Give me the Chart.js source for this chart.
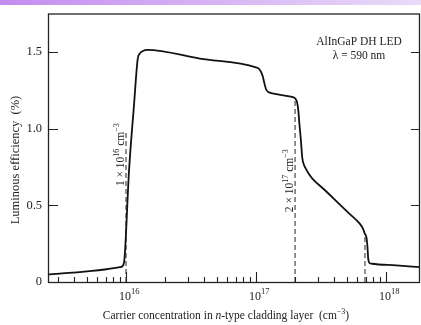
<!DOCTYPE html>
<html lang="en">
<head>
<meta charset="UTF-8">
<title>AlInGaP DH LED</title>
<style>
  body { margin: 0; background: #fff; }
  #wrap { position: relative; width: 421px; height: 325px; }
  #myChart { display: block; }
  #band { position: absolute; left: 0; top: 0; width: 421px; height: 5px;
          background: linear-gradient(to right, #c48cf0, #e9dbf8); }
</style>
</head>
<body>
<div id="wrap">
  <canvas id="myChart" width="421" height="325"></canvas>
  <div id="band"></div>
</div>

<script src="https://cdn.jsdelivr.net/npm/chart.js"></script>
<script>
// carrier concentration (cm^-3) and luminous efficiency (%)
const conc = [2.51e15, 8.99e15, 9.48e15, 9.74e15, 1.055e16, 1.152e16, 1.23e16, 1.28e16, 1.35e16, 1.45e16,
              3.7e16, 1.0e17, 1.06e17, 1.125e17, 1.16e17, 1.194e17, 1.245e17, 1.336e17, 1.81e17, 1.98e17,
              2.07e17, 2.12e17, 2.16e17, 2.22e17, 2.27e17, 2.34e17, 2.43e17, 2.58e17, 2.74e17, 3.4e17,
              4.43e17, 5.28e17, 6.31e17, 6.65e17, 6.89e17, 7.08e17, 7.2e17, 7.31e17, 7.47e17, 7.8e17,
              1.2e18, 1.83e18];
const eff = [0.048, 0.097, 0.108, 0.154, 0.725, 1.153, 1.453, 1.49, 1.506, 1.513,
             1.456, 1.399, 1.388, 1.344, 1.297, 1.258, 1.238, 1.229, 1.21, 1.2,
             1.173, 1.115, 1.03, 0.92, 0.812, 0.764, 0.736, 0.699, 0.671, 0.598,
             0.504, 0.442, 0.379, 0.349, 0.314, 0.293, 0.238, 0.152, 0.125, 0.119,
             0.108, 0.097];

// dashed marker lines: position and height
const markerX = [1e16, 2e17, 6.9e17];
const markerTop = [0.98, 1.2, 0.31];

const xMin = 2.51e15;
const xMax = 1.83e18;
const yMax = 1.75;
const xMajor = [1e16, 1e17, 1e18];
const xMajorExp = ['16', '17', '18'];
const xMinor = [3e15, 4e15, 5e15, 6e15, 7e15, 8e15, 9e15,
                2e16, 3e16, 4e16, 5e16, 6e16, 7e16, 8e16, 9e16,
                2e17, 3e17, 4e17, 5e17, 6e17, 7e17, 8e17, 9e17];
const yTicks = [0, 0.5, 1.0, 1.5];

const SERIF = '"Liberation Serif", "Times New Roman", serif';

// draws text pieces one after another: [text, size, italic, raise]
function drawRuns(ctx, runs, x, y, align) {
    let total = 0;
    runs.forEach(r => {
        ctx.font = (r[2] ? 'italic ' : '') + r[1] + 'px ' + SERIF;
        r.w = ctx.measureText(r[0]).width;
        total += r.w;
    });
    let cx = align === 'center' ? x - total / 2 : x;
    ctx.textAlign = 'left';
    ctx.textBaseline = 'alphabetic';
    runs.forEach(r => {
        ctx.font = (r[2] ? 'italic ' : '') + r[1] + 'px ' + SERIF;
        ctx.fillText(r[0], cx, y - (r[3] || 0));
        cx += r.w;
    });
}

const framePlugin = {
    id: 'frame',
    afterDraw(chart) {
        const ctx = chart.ctx;
        const a = chart.chartArea;
        const xs = chart.scales.x;
        const ys = chart.scales.y;
        ctx.save();
        ctx.strokeStyle = '#222';
        ctx.fillStyle = '#222';
        ctx.lineWidth = 1.3;
        ctx.strokeRect(a.left + 0.5, a.top + 0.5, a.right - a.left - 1, a.bottom - a.top);

        // inward ticks
        ctx.lineWidth = 1.1;
        ctx.beginPath();
        xMajor.forEach(v => {
            const px = Math.round(xs.getPixelForValue(v)) + 0.5;
            ctx.moveTo(px, a.bottom); ctx.lineTo(px, a.bottom - 10);
        });
        xMinor.forEach(v => {
            const px = Math.round(xs.getPixelForValue(v)) + 0.5;
            ctx.moveTo(px, a.bottom); ctx.lineTo(px, a.bottom - 5);
        });
        yTicks.forEach(v => {
            if (v === 0) return;
            const py = Math.round(ys.getPixelForValue(v)) + 0.5;
            ctx.moveTo(a.left, py); ctx.lineTo(a.left + 10, py);
            ctx.moveTo(a.right, py); ctx.lineTo(a.right - 9, py);
        });
        ctx.stroke();

        // x tick labels 10^n
        xMajor.forEach((v, i) => {
            const px = xs.getPixelForValue(v);
            ctx.font = '12px ' + SERIF;
            ctx.textAlign = 'right';
            ctx.textBaseline = 'alphabetic';
            ctx.fillText('10', px + 5, 300);
            ctx.font = '8.5px ' + SERIF;
            ctx.textAlign = 'left';
            ctx.fillText(xMajorExp[i], px + 5, 294);
        });

        // axis titles
        drawRuns(ctx, [['Carrier concentration in ', 11.5], ['n', 11.5, true],
                       ['-type cladding layer  (cm', 11.5], ['\u22123', 8, false, 5], [')', 11.5]],
                 226, 319, 'center');
        ctx.save();
        ctx.translate(19, 160);
        ctx.rotate(-Math.PI / 2);
        drawRuns(ctx, [['Luminous efficiency  (%)', 12.5]], 0, 0, 'center');
        ctx.restore();

        // marker labels
        const mk = (v, yv, runs) => {
            ctx.save();
            ctx.translate(xs.getPixelForValue(v) - 2, ys.getPixelForValue(yv));
            ctx.rotate(-Math.PI / 2);
            drawRuns(ctx, runs, 0, 0, 'center');
            ctx.restore();
        };
        mk(1e16, 0.83, [['1 \u00d7 10', 11.5], ['16', 8, false, 5], [' cm', 11.5], ['\u22123', 8, false, 5]]);
        mk(2e17, 0.66, [['2 \u00d7 10', 11.5], ['17', 8, false, 5], [' cm', 11.5], ['\u22123', 8, false, 5]]);

        // device note
        ctx.font = '11.5px ' + SERIF;
        ctx.textAlign = 'center';
        ctx.fillText('AlInGaP DH LED', 359, 45);
        ctx.fillText('\u03bb = 590 nm', 359, 59);
        ctx.restore();
    }
};

const datasets = [{
    data: conc.map((c, i) => ({ x: c, y: eff[i] })),
    borderColor: '#111',
    borderWidth: 1.8,
    pointRadius: 0,
    cubicInterpolationMode: 'monotone'
}];
markerX.forEach((m, i) => {
    datasets.push({
        data: [{ x: m, y: 0 }, { x: m, y: markerTop[i] }],
        borderColor: '#555',
        borderWidth: 1.3,
        borderDash: [5, 3],
        pointRadius: 0
    });
});

new Chart(document.getElementById('myChart'), {
    type: 'scatter',
    data: { datasets: datasets },
    options: {
        responsive: false,
        devicePixelRatio: 1,
        animation: false,
        showLine: true,
        layout: { padding: { top: 12, right: 1, left: 0, bottom: 0 } },
        plugins: { legend: { display: false }, tooltip: { enabled: false } },
        scales: {
            x: {
                type: 'logarithmic',
                min: xMin,
                max: xMax,
                ticks: { display: false },
                grid: { display: false, drawTicks: false },
                border: { display: false },
                afterFit: s => { s.height = 43; }
            },
            y: {
                min: 0,
                max: yMax,
                afterBuildTicks: s => { s.ticks = yTicks.map(v => ({ value: v })); },
                ticks: {
                    padding: 6,
                    color: '#222',
                    font: { family: SERIF, size: 12.5 },
                    callback: v => v === 0 ? '0' : v.toFixed(1)
                },
                grid: { display: false, drawTicks: false },
                border: { display: false },
                afterFit: s => { s.width = 48; }
            }
        }
    },
    plugins: [framePlugin]
});
</script>
</body>
</html>
